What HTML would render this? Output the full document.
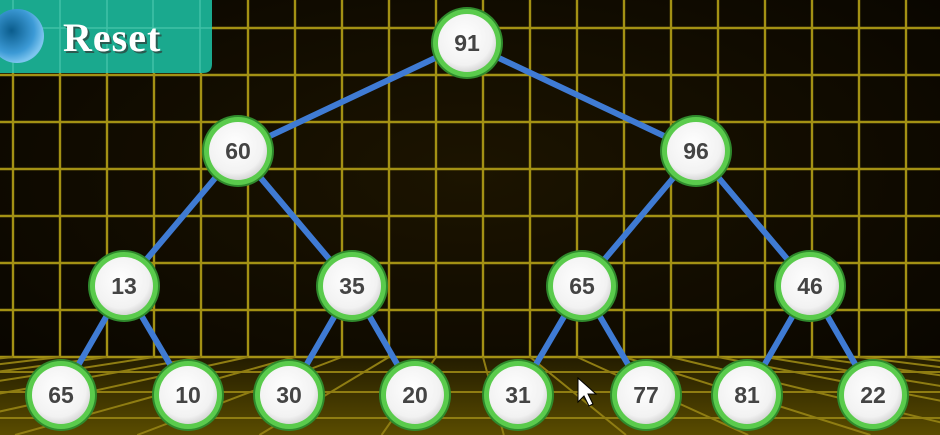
<!DOCTYPE html>
<html><head><meta charset="utf-8"><style>
html,body{margin:0;padding:0;background:#120c00;}
svg{display:block}
</style></head><body>
<svg id="chart" width="940" height="435" viewBox="0 0 940 435">
<defs>
<radialGradient id="bg" cx="50%" cy="40%" r="70%"><stop offset="0" stop-color="#1c1400"/><stop offset="1" stop-color="#080500"/></radialGradient>
<linearGradient id="floor" x1="0" y1="0" x2="0" y2="1"><stop offset="0" stop-color="#231c00"/><stop offset="1" stop-color="#5a4c00"/></linearGradient>
<radialGradient id="node" cx="45%" cy="40%" r="60%"><stop offset="0" stop-color="#ffffff"/><stop offset="0.8" stop-color="#f2f2f2"/><stop offset="1" stop-color="#d8d8d8"/></radialGradient>
<radialGradient id="ball" cx="40%" cy="40%" r="60%"><stop offset="0" stop-color="#0a5c8c"/><stop offset="0.7" stop-color="#3c9ad6"/><stop offset="1" stop-color="#7cc4ef"/></radialGradient>
</defs>
<rect width="940" height="435" fill="url(#bg)"/>
<rect y="357" width="940" height="78" fill="url(#floor)"/>
<g id="grid" stroke="#a39114" stroke-width="2.4"></g>
<g id="floorGrid" stroke="#8f7d12" stroke-width="2"></g>
<g>
<path d="M0 0 H212 V64 Q212 73 203 73 H0 Z" fill="#1aa98e"/>
<g stroke="#5cd2b8" stroke-width="1.5" opacity="0.6">
<line x1="13" y1="0" x2="13" y2="73"/><line x1="60" y1="0" x2="60" y2="73"/><line x1="107" y1="0" x2="107" y2="73"/><line x1="153" y1="0" x2="153" y2="73"/><line x1="200" y1="0" x2="200" y2="73"/><line x1="0" y1="28" x2="212" y2="28"/>
</g>
<circle cx="17" cy="36" r="27" fill="url(#ball)"/>
<text x="65" y="53" font-family="Liberation Serif, serif" font-weight="bold" font-size="40" letter-spacing="1" fill="#2a5a50">Reset</text>
<text x="63" y="51" font-family="Liberation Serif, serif" font-weight="bold" font-size="40" letter-spacing="1" fill="#ffffff">Reset</text>
</g>
<g id="edges"></g>
<g id="nodes"></g>
<path d="M578 378 L578 402 L584 396 L589 406 L593 404 L588 394 L596 394 Z" fill="#fff" stroke="#000" stroke-width="1"/>
</svg>
<script>
// Heap values in level order
const nodeValues = [91, 60, 96, 13, 35, 65, 46, 65, 10, 30, 20, 31, 77, 81, 22];
const levelY = [43, 151, 286, 395];
const nodeX = [467, 238, 696, 124, 352, 582, 810, 61, 188, 289, 415, 518, 646, 747, 873];
const NS = 'http://www.w3.org/2000/svg';
function mk(tag, attrs, parent){const e=document.createElementNS(NS,tag);for(const k in attrs)e.setAttribute(k,attrs[k]);parent.appendChild(e);return e;}
const grid=document.getElementById('grid');
for(let x=13;x<=940;x+=47){const l=mk('line',{x1:x,y1:0,x2:x,y2:357},grid);

}
for(let y=28;y<=357;y+=47){const l=mk('line',{x1:0,y1:y,x2:940,y2:y},grid);

}
const fg=document.getElementById('floorGrid');
[372,392,418].forEach(y=>{const l=mk('line',{x1:0,y1:y,x2:940,y2:y},fg);

});
for(let x=13;x<=940;x+=47){const bx=470+(x-470)*2.6;const l=mk('line',{x1:x,y1:357,x2:bx,y2:435},fg);

}
function levelOf(i){return Math.floor(Math.log2(i+1));}
const edges=document.getElementById('edges');
for(let i=1;i<nodeValues.length;i++){const p=Math.floor((i-1)/2);
const l=mk('line',{x1:nodeX[p],y1:levelY[levelOf(p)],x2:nodeX[i],y2:levelY[levelOf(i)],stroke:'#3f7bd4','stroke-width':6},edges);

}
const nodes=document.getElementById('nodes');
nodeValues.forEach((v,i)=>{const g=mk('g',{},nodes);


const cx=nodeX[i],cy=levelY[levelOf(i)];
mk('circle',{cx,cy,r:36,fill:'#2f8a2c'},g);
mk('circle',{cx,cy,r:34,fill:'#5acb4c'},g);
mk('circle',{cx,cy,r:29,fill:'url(#node)'},g);
const t=mk('text',{x:cx,y:cy+8,'text-anchor':'middle','font-family':'Liberation Sans, sans-serif','font-weight':'bold','font-size':23,fill:'#444'},g);
t.textContent=v;

});
</script>
</body></html>
